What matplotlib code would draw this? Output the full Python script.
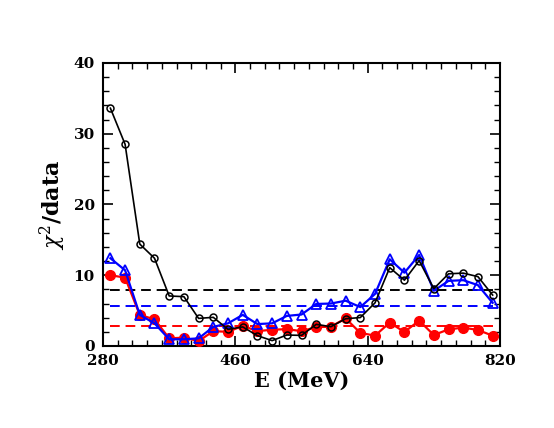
import matplotlib
matplotlib.use('Agg')
import matplotlib.pyplot as plt
from matplotlib.ticker import MultipleLocator, FixedLocator

plt.rcParams['font.family'] = 'DejaVu Serif'
plt.rcParams['mathtext.fontset'] = 'dejavuserif'

# energies (MeV)
energy = [290, 310, 330, 350, 370, 390, 410, 430, 450, 470, 490, 510, 530, 550,
          570, 590, 610, 630, 650, 670, 690, 710, 730, 750, 770, 790, 810]

chi_black = [33.6, 28.5, 14.4, 12.4, 7.07, 6.97, 3.9, 4.05, 2.35, 2.7, 1.46, 0.76,
             1.55, 1.5, 3.06, 2.73, 3.85, 4.02, 6.1, 11.07, 9.3, 12.06, 8.1, 10.2,
             10.3, 9.8, 7.2]
chi_blue = [12.4, 10.7, 4.4, 3.2, 0.95, 0.95, 1.08, 2.7, 3.2, 4.4, 3.1, 3.2, 4.25,
            4.45, 5.94, 6.0, 6.4, 5.5, 7.35, 12.25, 10.36, 12.86, 7.8, 9.2, 9.3,
            8.6, 6.1]
chi_red = [10.0, 9.66, 4.38, 3.77, 1.08, 1.18, 0.7, 2.1, 2.0, 2.85, 2.1, 2.3, 2.38,
           2.1, 2.66, 2.73, 3.9, 1.85, 1.46, 3.3, 1.98, 3.58, 1.55, 2.35, 2.6,
           2.26, 1.46]

# averages (dashed)
avg_black = 7.95
avg_blue = 5.65
avg_red = 2.87

xticks = [280, 460, 640, 820]

fig = plt.figure(figsize=(5.54, 4.28), dpi=100)
ax = fig.add_axes([0.186, 0.1916, 0.7165, 0.6614])

ax.hlines(avg_black, energy[0], energy[-1], colors='black', linestyles=(0, (5, 3)), lw=1.4)
ax.hlines(avg_blue, energy[0], energy[-1], colors='blue', linestyles=(0, (5, 3)), lw=1.4)
ax.hlines(avg_red, energy[0], energy[-1], colors='red', linestyles=(0, (5, 3)), lw=1.4)

ax.plot(energy, chi_red, '-o', color='red', lw=1.6, ms=7, zorder=3)
ax.plot(energy, chi_blue, '-^', color='blue', lw=1.6, ms=7.5, mfc='none', mew=1.3, zorder=4)
ax.plot(energy, chi_black, '-o', color='black', lw=1.2, ms=5, mfc='none', mew=1.1, zorder=5)

ax.set_xlim(280, 820)
ax.set_ylim(0, 40)
ax.xaxis.set_major_locator(FixedLocator(xticks))
ax.xaxis.set_minor_locator(MultipleLocator(20))
ax.yaxis.set_major_locator(MultipleLocator(10))
ax.yaxis.set_minor_locator(MultipleLocator(2))
ax.tick_params(which='both', direction='in', top=True, right=True, labelsize=11)
ax.tick_params(which='major', length=7, width=1.2, pad=6)
ax.tick_params(which='minor', length=4, width=1.0)
for lab in ax.get_xticklabels() + ax.get_yticklabels():
    lab.set_fontweight('bold')
for sp in ax.spines.values():
    sp.set_linewidth(1.5)

ax.set_xlabel('E (MeV)', fontsize=15, fontweight='bold', labelpad=2)
ax.set_ylabel(r'$\chi^2$/data', fontsize=16, fontweight='bold', labelpad=4)

fig.savefig('out.png', dpi=100)
